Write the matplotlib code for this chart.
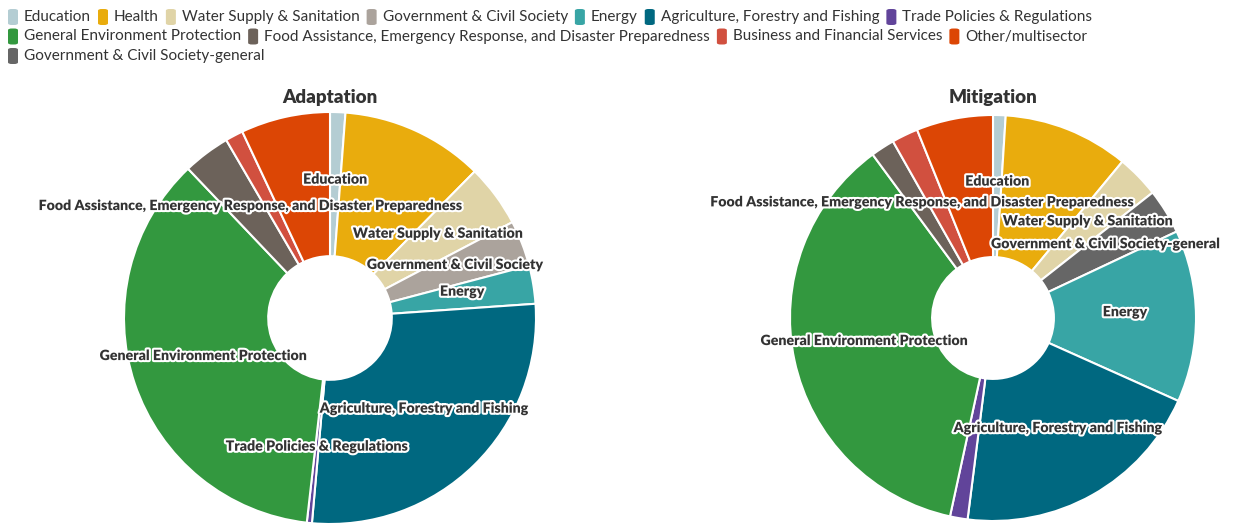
import matplotlib
matplotlib.use("Agg")
import matplotlib.pyplot as plt
import matplotlib.patheffects as pe
from matplotlib.patches import FancyBboxPatch
import numpy as np

plt.rcParams['font.family'] = ['Lato', 'DejaVu Sans']

# legend order and colours
sectors = ['Education', 'Health', 'Water Supply & Sanitation', 'Government & Civil Society',
           'Energy', 'Agriculture, Forestry and Fishing', 'Trade Policies & Regulations',
           'General Environment Protection',
           'Food Assistance, Emergency Response, and Disaster Preparedness',
           'Business and Financial Services', 'Other/multisector',
           'Government & Civil Society-general']
colors = ['#b4cdd3', '#e9ac0d', '#e0d4a7', '#aba39c', '#38a5a5', '#006880', '#61449a',
          '#33983f', '#6c625a', '#d1503f', '#dc4605', '#666666']
color_of = dict(zip(sectors, colors))

# Adaptation shares (%), clockwise from 12 o'clock
adapt_sectors = ['Education', 'Health', 'Water Supply & Sanitation', 'Government & Civil Society',
                 'Energy', 'Agriculture, Forestry and Fishing', 'Trade Policies & Regulations',
                 'General Environment Protection',
                 'Food Assistance, Emergency Response, and Disaster Preparedness',
                 'Business and Financial Services', 'Other/multisector']
adapt_values = [1.2, 11.2, 4.9, 3.6, 3.0, 27.5, 0.4, 36.1, 3.7, 1.4, 7.0]
adapt_labeled = [True, False, True, True, True, True, True, True, True, False, False]

# Mitigation shares (%)
mitig_sectors = ['Education', 'Health', 'Water Supply & Sanitation',
                 'Government & Civil Society-general', 'Energy',
                 'Agriculture, Forestry and Fishing', 'Trade Policies & Regulations',
                 'General Environment Protection',
                 'Food Assistance, Emergency Response, and Disaster Preparedness',
                 'Business and Financial Services', 'Other/multisector']
mitig_values = [1.0, 10.0, 3.4, 3.6, 13.7, 20.3, 1.4, 36.5, 1.9, 2.1, 6.1]
mitig_labeled = [True, False, True, True, True, True, False, True, True, False, False]

W, H = 1234, 525
fig = plt.figure(figsize=(W / 100, H / 100), dpi=100)


def donut(cx, cy, r, title, names, values, labeled):
    ax = fig.add_axes([(cx - r) / W, (H - cy - r) / H, 2 * r / W, 2 * r / H])
    wedges, _ = ax.pie(values, colors=[color_of[n] for n in names], startangle=90,
                       counterclock=False, radius=1,
                       wedgeprops=dict(width=0.70, edgecolor='white', linewidth=1.5))
    for w, n, show in zip(wedges, names, labeled):
        if not show:
            continue
        mid = np.deg2rad((w.theta1 + w.theta2) / 2)
        ax.text(0.65 * np.cos(mid), 0.65 * np.sin(mid) + 5 / r, n, ha='center', va='center',
                fontsize=10.2, fontweight='heavy', color='#333333',
                path_effects=[pe.withStroke(linewidth=3, foreground='white')])
    ax.set_xlim(-1, 1)
    ax.set_ylim(-1, 1)
    ax.set_aspect('equal')
    ax.axis('off')
    fig.text(cx / W, 1 - 97 / H, title, ha='center', va='center',
             fontsize=13.5, fontweight='heavy', color='#333333')


donut(330, 318, 206, 'Adaptation', adapt_sectors, adapt_values, adapt_labeled)
donut(993, 318, 203, 'Mitigation', mitig_sectors, mitig_values, mitig_labeled)

# flow legend at the top
fig.canvas.draw()
renderer = fig.canvas.get_renderer()
x, row = 8, 0
row_y = [17, 36.5, 56]
for n in sectors:
    t = fig.text(0, 0, n, fontsize=11, color='#333333', va='center')
    tw = t.get_window_extent(renderer).width
    item_w = 16 + tw
    if x + item_w > W - 8:
        row += 1
        x = 8
    y = row_y[row]
    fig.patches.append(FancyBboxPatch((x / W, (H - y - 8) / H), 10 / W, 16 / H,
                                      boxstyle='round,pad=0,rounding_size=0.003',
                                      transform=fig.transFigure, facecolor=color_of[n],
                                      edgecolor='none'))
    t.set_position(((x + 16) / W, (H - y) / H))
    x += item_w + 7

fig.savefig('out.png', dpi=100)
